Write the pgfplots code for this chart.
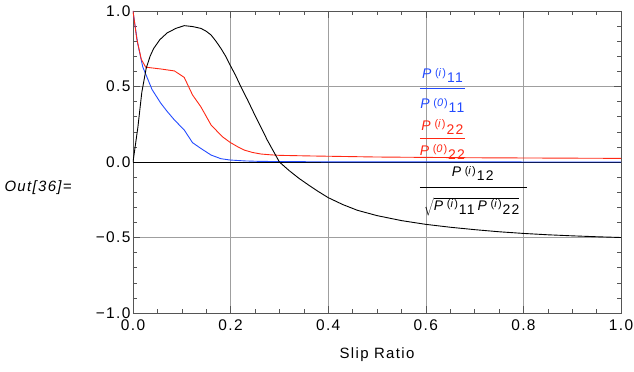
\documentclass[border=0pt]{standalone}
\usepackage{pgfplots}
\pgfplotsset{compat=1.18}
\usepackage{fontspec}
\setmainfont{Liberation Sans}
\newfontfamily\spfont{Liberation Sans}[LetterSpace=9]
\definecolor{cblue}{RGB}{35,75,255}
\definecolor{cred}{RGB}{255,40,20}
\definecolor{framegray}{RGB}{85,85,85}
\newcommand\PP[2]{\textit{P}\hspace{2.5bp}\raisebox{0.35ex}{\fontsize{11}{11}\selectfont(\textit{#1})}\hspace{1bp}\raisebox{-0.55ex}{#2}}
\newcommand\lfont{\spfont\fontsize{14}{16}\selectfont}
\begin{document}
\begin{tikzpicture}
\useasboundingbox (-133bp,-59bp) rectangle (501bp,313bp);
\begin{axis}[
  at={(0,0)}, anchor=south west,
  scale only axis, width=488bp, height=302bp,
  xmin=0, xmax=1, ymin=-1, ymax=1,
  xtick={0,0.2,0.4,0.6,0.8,1}, xticklabels={0.0,0.2,0.4,0.6,0.8,1.0},
  ytick={-1,-0.5,0,0.5,1}, yticklabels={−1.0,−0.5,0.0,0.5,1.0},
  minor x tick num=3, minor y tick num=4,
  tick align=inside, major tick length=7bp, minor tick length=4bp,
  grid=major, major grid style={gray!75, line width=0.6pt},
  axis line style={framegray, line width=0.8pt},
  every tick/.style={framegray, line width=0.6pt},
  ticklabel style={font=\spfont\fontsize{15.5}{17}\selectfont},
  xticklabel style={yshift=-3bp},
  yticklabel style={xshift=1bp},
  clip=true,
]
\addplot[black, line width=0.8pt] coordinates {(0,0) (1,0)};
\addplot[cblue, line width=0.9pt] coordinates {
(0,1) (0.0095,0.786) (0.02,0.63) (0.039,0.48) (0.057,0.389) (0.07,0.335) (0.085,0.278)
(0.105,0.212) (0.122,0.128) (0.139,0.09) (0.16,0.046) (0.18,0.022) (0.199,0.013)
(0.23,0.007) (0.26,0.004) (0.4,0.001) (1,0.0)};
\addplot[cred, line width=0.9pt] coordinates {
(0,1.0) (0.0075,0.82) (0.017,0.68) (0.026,0.628) (0.057,0.616) (0.085,0.603)
(0.105,0.56) (0.122,0.444) (0.139,0.366) (0.16,0.245) (0.183,0.168) (0.199,0.130)
(0.215,0.100) (0.228,0.079) (0.245,0.063) (0.262,0.053) (0.28,0.048) (0.30,0.044)
(0.364,0.04) (0.5,0.033) (0.7,0.028) (1.0,0.024)};
\addplot[black, line width=0.9pt] coordinates {
(0,0) (0.01,0.23) (0.018,0.46) (0.027,0.62) (0.035,0.70) (0.042,0.75) (0.055,0.81)
(0.07,0.855) (0.088,0.885) (0.105,0.903) (0.122,0.897) (0.139,0.885) (0.15,0.866)
(0.16,0.841) (0.17,0.80) (0.18,0.753) (0.19,0.70) (0.199,0.642) (0.21,0.575)
(0.221,0.499) (0.235,0.41) (0.248,0.322) (0.262,0.232) (0.275,0.146) (0.288,0.07)
(0.30,0.0) (0.32,-0.057) (0.34,-0.108) (0.36,-0.153) (0.38,-0.196) (0.40,-0.236)
(0.43,-0.282) (0.46,-0.320) (0.50,-0.355) (0.55,-0.388) (0.60,-0.413) (0.65,-0.432)
(0.70,-0.448) (0.75,-0.462) (0.80,-0.473) (0.85,-0.482) (0.90,-0.489) (0.95,-0.495)
(1.0,-0.50)};
% labels
\node[cblue, font=\lfont] at (axis cs:0.634,0.572) {\PP{i}{11}};
\draw[cblue, line width=0.8pt] (axis cs:0.588,0.488) -- (axis cs:0.680,0.488);
\node[cblue, font=\lfont] at (axis cs:0.634,0.375) {\PP{0}{11}};
\node[cred, font=\lfont] at (axis cs:0.634,0.230) {\PP{i}{22}};
\draw[cred, line width=0.8pt] (axis cs:0.588,0.157) -- (axis cs:0.680,0.157);
\node[cred, font=\lfont] at (axis cs:0.634,0.066) {\PP{0}{22}};
\node[black, font=\lfont] at (axis cs:0.696,-0.077) {\PP{i}{12}};
\draw[black, line width=0.8pt] (axis cs:0.588,-0.168) -- (axis cs:0.807,-0.168);
\node[black, font=\lfont] at (axis cs:0.694,-0.296) {$\sqrt{\mbox{\lfont\PP{i}{11}\hspace{3bp}\PP{i}{22}}}$};
\end{axis}
\node[font=\spfont\fontsize{15}{17}\selectfont] at (244bp,-42bp) {Slip Ratio};
\node[anchor=west, font=\spfont\fontsize{15}{17}\selectfont\itshape] at (-132bp,125bp) {Out[36]=};
\end{tikzpicture}
\end{document}
